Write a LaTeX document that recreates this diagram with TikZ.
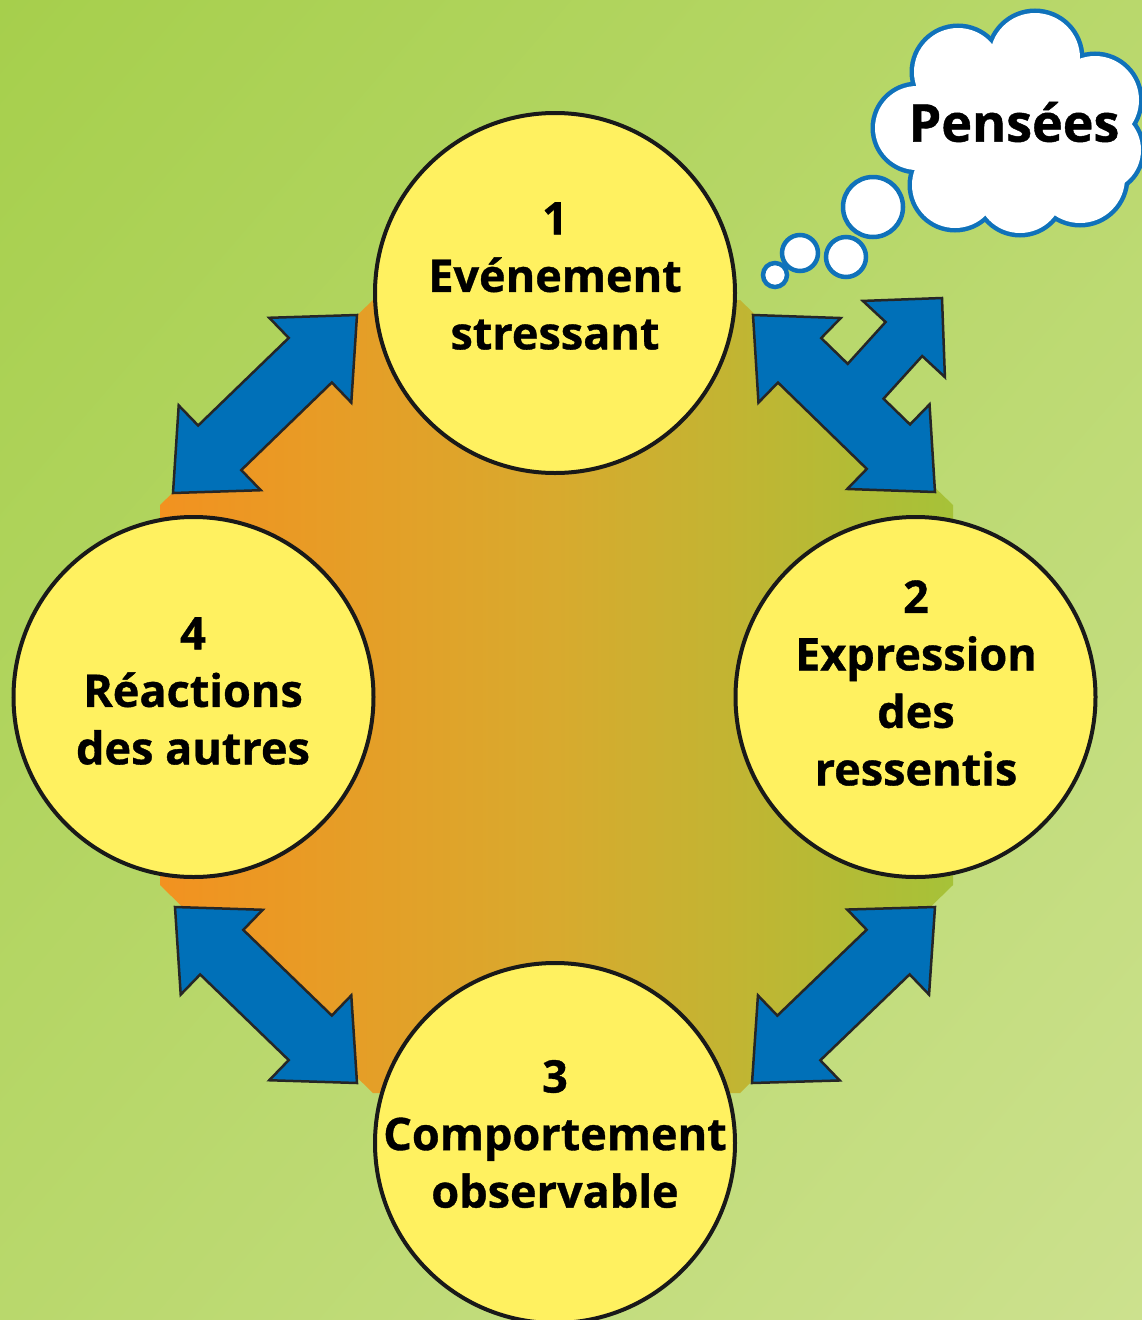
\documentclass[tikz,border=0pt]{standalone}
\usepackage{fontspec}
\setmainfont{Open Sans}[BoldFeatures={FakeBold=0.8}]
\usetikzlibrary{calc,shadings}
\definecolor{bgA}{RGB}{166,207,76}
\definecolor{bgB}{RGB}{204,225,142}
\definecolor{bgM}{RGB}{185,216,108}
\definecolor{octL}{RGB}{242,146,32}
\definecolor{octM}{RGB}{216,170,46}
\definecolor{octR}{RGB}{166,194,56}
\definecolor{yel}{RGB}{255,241,96}
\definecolor{arrblue}{RGB}{0,112,184}
\definecolor{cloudblue}{RGB}{16,114,186}
\tikzset{
  stage/.style={circle, draw=black!90, line width=4pt, fill=yel, minimum size=360pt, inner sep=0pt},
  stagetext/.style={align=center, font=\bfseries\fontsize{45}{57.5}\selectfont, text=black, inner sep=0pt},
  blockarrow/.style={fill=arrblue, draw=black!85, line width=2.5pt, line join=miter},
  bubble/.style={circle, fill=white, draw=cloudblue, line width=4.5pt, inner sep=0pt},
  lobeedge/.style={draw=cloudblue, line width=9pt},
  lobefill/.style={fill=white},
}
\newcommand\blockarr[2]{%
  \coordinate (h1) at ($(#1)!65pt!(#2)$);
  \coordinate (h2) at ($(#2)!65pt!(#1)$);
  \draw[blockarrow] (#1) -- ($(h1)!59pt!90:(#2)$) -- ($(h1)!31pt!90:(#2)$)
    -- ($(h2)!31pt!-90:(#1)$) -- ($(h2)!59pt!-90:(#1)$) -- (#2)
    -- ($(h2)!59pt!90:(#1)$) -- ($(h2)!31pt!90:(#1)$)
    -- ($(h1)!31pt!-90:(#2)$) -- ($(h1)!59pt!-90:(#2)$) -- cycle;
}
\begin{document}
\begin{tikzpicture}[x=1pt,y=-1pt]
\useasboundingbox (0,0) rectangle (1142,1320);
\clip (0,0) rectangle (1142,1320);
% background
\shade[upper left=bgA, lower right=bgB, upper right=bgM, lower left=bgM] (0,0) rectangle (1142,1320);
% octagon
\shade[left color=octL, right color=octR, middle color=octM]
  (373,300) -- (740,300) -- (953,505) -- (953,885) -- (740,1093) -- (373,1093) -- (160,885) -- (160,505) -- cycle;
% arrow ends
\coordinate (tlA) at (357,315); \coordinate (tlB) at (173,493);
\coordinate (blA) at (175,907); \coordinate (blB) at (357,1083);
\coordinate (brA) at (935,907); \coordinate (brB) at (752,1083);
\coordinate (trA) at (753,315); \coordinate (trB) at (935,492); \coordinate (trT) at (942,298);
\blockarr{tlA}{tlB}
\blockarr{blA}{blB}
\blockarr{brA}{brB}
% branched arrow
\coordinate (trM) at ($(trA)!0.5!(trB)$);
\coordinate (th1) at ($(trA)!65pt!(trB)$);
\coordinate (th2) at ($(trB)!65pt!(trA)$);
\coordinate (mb1) at ($(trM)!25pt!(trA)$);
\coordinate (mb2) at ($(trM)!25pt!(trB)$);
\coordinate (bc) at ($(trT)!56pt!(trM)$);
\draw[blockarrow] (trA) -- ($(th1)!59pt!90:(trB)$) -- ($(th1)!31pt!90:(trB)$)
  -- ($(mb1)!31pt!90:(trB)$) -- ($(bc)!25pt!90:(trT)$) -- ($(bc)!56pt!90:(trT)$)
  -- (trT) -- ($(bc)!56pt!-90:(trT)$) -- ($(bc)!25pt!-90:(trT)$)
  -- ($(mb2)!31pt!-90:(trA)$) -- ($(th2)!31pt!-90:(trA)$) -- ($(th2)!59pt!-90:(trA)$)
  -- (trB) -- ($(th2)!59pt!90:(trA)$) -- ($(th2)!31pt!90:(trA)$)
  -- ($(th1)!31pt!-90:(trB)$) -- ($(th1)!59pt!-90:(trB)$) -- cycle;
% stages
\node[stage] (s1) at (555,293) {};
\node[stage] (s2) at (915.5,697) {};
\node[stage] (s3) at (555,1143) {};
\node[stage] (s4) at (193.5,697) {};
\node[stagetext] (t1) at (555,276) {1\\Evénement\\stressant};
\node[stagetext] (t2) at (916,683) {2\\Expression\\des\\ressentis};
\node[stagetext] (t3) at (555,1134) {3\\Comportement\\observable};
\node[stagetext] (t4) at (193,691) {4\\Réactions\\des autres};
% thought bubbles
\node[bubble, minimum size=60pt] (b1) at (873,207) {};
\node[bubble, minimum size=40pt] (b2) at (846,257) {};
\node[bubble, minimum size=36pt] (b3) at (800,253) {};
\node[bubble, minimum size=24pt] (b4) at (775,275) {};
% cloud
\foreach \cx/\cy/\r in {917/128/42, 958/72/44, 1035/58/45, 1095/100/44, 1100/150/41, 1080/178/45, 1020/190/43, 955/185/43, 1010/128/80}
  \path[lobeedge] (\cx,\cy) circle[radius=\r pt];
\foreach \cx/\cy/\r in {917/128/42, 958/72/44, 1035/58/45, 1095/100/44, 1100/150/41, 1080/178/45, 1020/190/43, 955/185/43, 1010/128/80}
  \path[lobefill] (\cx,\cy) circle[radius=\r pt];
\node[font=\bfseries\fontsize{52}{60}\selectfont, inner sep=0pt] (thoughts) at (1014,122) {Pensées};
\end{tikzpicture}
\end{document}
